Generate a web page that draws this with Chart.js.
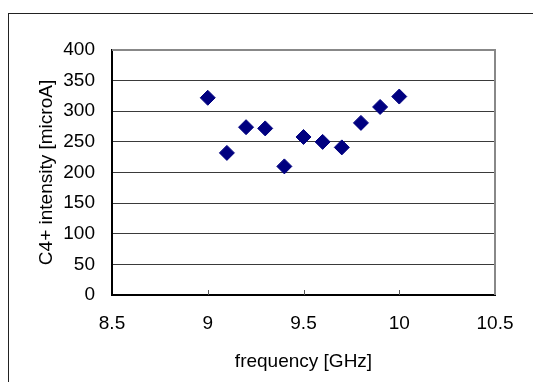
<!DOCTYPE html>
<html>
<head>
<meta charset="utf-8">
<script src="https://cdn.jsdelivr.net/npm/chart.js@4"></script>
<style>
  html, body { margin: 0; padding: 0; background: #fff; overflow: hidden; }
  #wrap { position: relative; width: 533px; height: 382px; overflow: hidden; }
  #frame { position: absolute; left: 8px; top: 13px; width: 700px; height: 600px; border: 1.5px solid #222; }
  canvas { position: absolute; left: 0; top: 0; }
</style>
</head>
<body>
<div id="wrap">
  <div id="frame"></div>
  <canvas id="c" width="533" height="382"></canvas>
</div>
<script>
// DATA
const frequencies = [9.0, 9.1, 9.2, 9.3, 9.4, 9.5, 9.6, 9.7, 9.8, 9.9, 10.0];
const intensities = [322, 232, 274, 272, 210, 258, 250, 241, 281, 307, 324];
const xTicks = [8.5, 9, 9.5, 10, 10.5];
const yTicks = [0, 50, 100, 150, 200, 250, 300, 350, 400];

const FONT = 'Liberation Sans, Arial, sans-serif';
const SIZE = 19;

// top/right gray border + small inward x ticks
const plotFrame = {
    id: 'plotFrame',
    afterDraw(chart) {
        const { ctx, chartArea: a, scales } = chart;
        ctx.save();
        ctx.strokeStyle = '#888';
        ctx.lineWidth = 2;
        ctx.beginPath();
        ctx.moveTo(a.left, a.top);
        ctx.lineTo(a.right, a.top);
        ctx.lineTo(a.right, a.bottom);
        ctx.stroke();
        ctx.strokeStyle = '#555';
        ctx.lineWidth = 1;
        ctx.beginPath();
        xTicks.slice(1, -1).forEach(v => {
            const px = Math.round(scales.x.getPixelForValue(v)) + 0.5;
            ctx.moveTo(px, a.bottom);
            ctx.lineTo(px, a.bottom - 5);
        });
        ctx.stroke();
        ctx.restore();
    }
};

new Chart(document.getElementById('c'), {
    type: 'scatter',
    data: {
        datasets: [{
            data: frequencies.map((f, i) => ({ x: f, y: intensities[i] })),
            pointStyle: 'rectRot',
            pointRadius: 7.5,
            pointBorderWidth: 1,
            pointBackgroundColor: '#000080',
            pointBorderColor: '#000080'
        }]
    },
    options: {
        responsive: false,
        animation: false,
        events: [],
        layout: { padding: { left: 0, top: 50, right: 38, bottom: 0 } },
        plugins: { legend: { display: false }, tooltip: { enabled: false } },
        scales: {
            x: {
                type: 'linear',
                min: 8.5, max: 10.5,
                afterBuildTicks: s => { s.ticks = xTicks.map(v => ({ value: v })); },
                afterFit: s => { s.height = 87; },
                grid: { display: false, drawTicks: false },
                border: { color: '#000', width: 2 },
                ticks: { color: '#000', padding: 17, font: { family: FONT, size: SIZE }, maxRotation: 0,
                         callback: v => String(v) },
                title: { display: true, text: 'frequency [GHz]', color: '#000', font: { family: FONT, size: SIZE }, padding: { top: 0, bottom: 9 } }
            },
            y: {
                min: 0, max: 400,
                afterBuildTicks: s => { s.ticks = yTicks.map(v => ({ value: v })); },
                afterFit: s => { s.width = 112; },
                grid: {
                    drawTicks: false,
                    color: ctx => ctx.tick && ctx.tick.value === 400 ? 'rgba(0,0,0,0)' : '#3a3a3a',
                    lineWidth: 1
                },
                border: { color: '#000', width: 2 },
                ticks: { color: '#000', padding: 17, font: { family: FONT, size: SIZE } },
                title: { display: true, text: 'C4+ intensity [microA]', color: '#000', font: { family: FONT, size: SIZE }, padding: { top: 35, bottom: 0 } }
            }
        }
    },
    plugins: [plotFrame]
});
</script>
</body>
</html>
